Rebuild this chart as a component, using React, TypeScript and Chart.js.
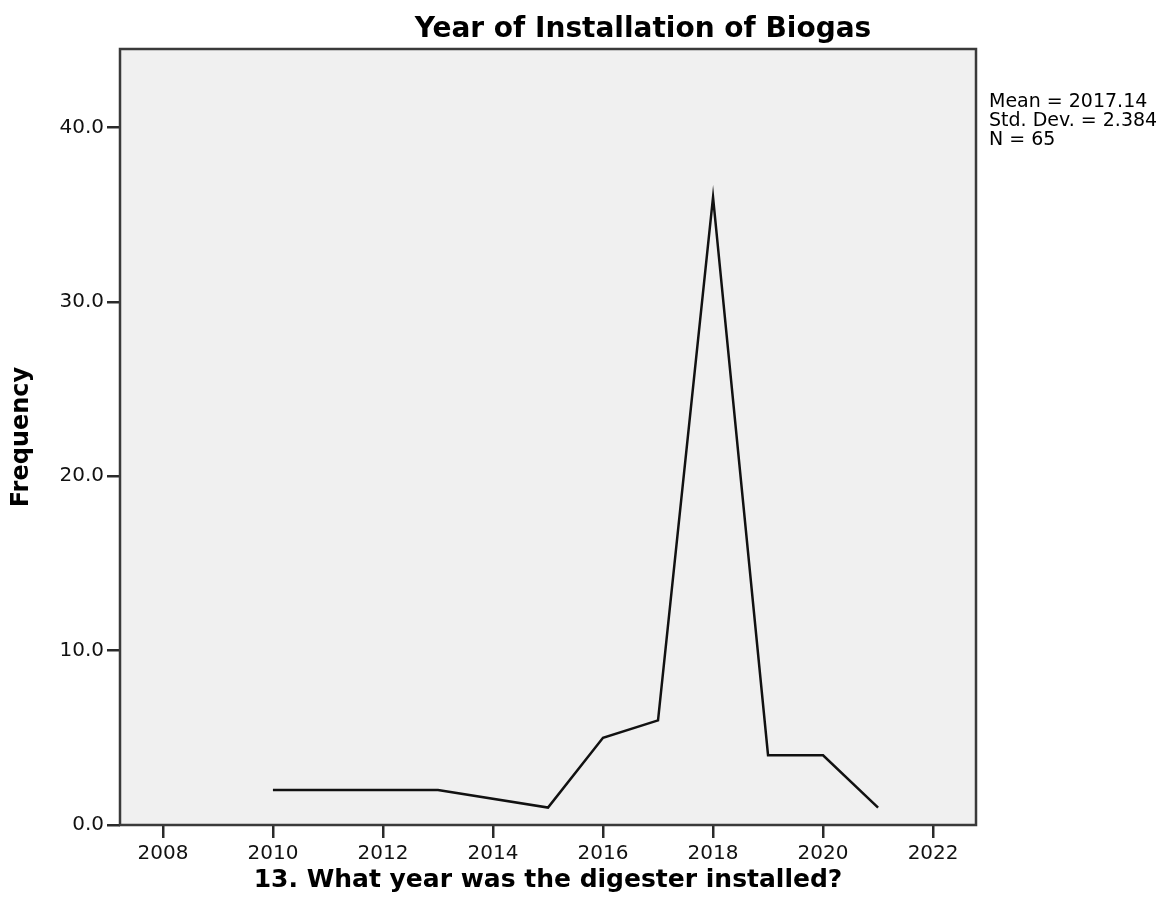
import React, { useEffect, useRef } from "react";
import { Chart, registerables } from "chart.js";

Chart.register(...registerables);

const years = [2010, 2011, 2012, 2013, 2015, 2016, 2017, 2018, 2019, 2020, 2021];
const frequencies = [2, 2, 2, 2, 1, 5, 6, 36, 4, 4, 1];
const xTicks = [2008, 2010, 2012, 2014, 2016, 2018, 2020, 2022];
const yTicks = [0, 10, 20, 30, 40];
const chartTitle = "Year of Installation of Biogas";
const xTitle = "13. What year was the digester installed?";
const yTitle = "Frequency";
const statsLines = ["Mean = 2017.14", "Std. Dev. = 2.384", "N = 65"];

const FONT = "'DejaVu Sans', 'Liberation Sans', Arial, sans-serif";

const decorPlugin = {
  id: "decor",
  beforeDraw(chart: any) {
    const { ctx, chartArea, width, height } = chart;
    ctx.save();
    ctx.fillStyle = "#ffffff";
    ctx.fillRect(0, 0, width, height);
    ctx.fillStyle = "#f0f0f0";
    ctx.fillRect(chartArea.left, chartArea.top, chartArea.right - chartArea.left, chartArea.bottom - chartArea.top);
    ctx.restore();
  },
  afterDraw(chart: any) {
    const { ctx, chartArea } = chart;
    ctx.save();
    ctx.strokeStyle = "#3a3a3a";
    ctx.lineWidth = 2.5;
    ctx.strokeRect(chartArea.left, chartArea.top, chartArea.right - chartArea.left, chartArea.bottom - chartArea.top);

    ctx.fillStyle = "#000000";
    ctx.textAlign = "center";
    ctx.textBaseline = "middle";
    ctx.font = `bold 28px ${FONT}`;
    ctx.fillText(chartTitle, 643, 30);

    ctx.font = `bold 25px ${FONT}`;
    ctx.fillText(xTitle, (chartArea.left + chartArea.right) / 2, 880);

    ctx.save();
    ctx.translate(22, (chartArea.top + chartArea.bottom) / 2);
    ctx.rotate(-Math.PI / 2);
    ctx.font = `bold 24px ${FONT}`;
    ctx.fillText(yTitle, 0, 0);
    ctx.restore();

    ctx.textAlign = "left";
    ctx.textBaseline = "middle";
    ctx.font = `19px ${FONT}`;
    statsLines.forEach((s, i) => ctx.fillText(s, 989, 102 + i * 19));
    ctx.restore();
  },
};

export default function App() {
  const ref = useRef<HTMLCanvasElement | null>(null);

  useEffect(() => {
    document.body.style.margin = "0";
    const canvas = ref.current;
    if (!canvas) return;
    const chart = new Chart(canvas, {
      type: "line",
      data: {
        datasets: [
          {
            data: years.map((y, i) => ({ x: y, y: frequencies[i] })),
            borderColor: "#111111",
            borderWidth: 2.5,
            pointRadius: 0,
            tension: 0,
            fill: false,
          },
        ],
      },
      options: {
        animation: false,
        responsive: false,
        maintainAspectRatio: false,
        layout: { padding: { left: 0, top: 49, right: 197, bottom: 0 } },
        plugins: { legend: { display: false }, tooltip: { enabled: false }, title: { display: false } },
        scales: {
          x: {
            type: "linear",
            min: 2007.22,
            max: 2022.78,
            afterFit: (s: any) => {
              s.height = 87;
            },
            afterBuildTicks: (s: any) => {
              s.ticks = xTicks.map((v) => ({ value: v }));
            },
            border: { display: false },
            grid: { drawOnChartArea: false, drawTicks: true, tickLength: 13, color: "#2a2a2a", lineWidth: 2.5 },
            ticks: {
              padding: 4,
              color: "#111111",
              font: { family: FONT, size: 20 },
              callback: (v: any) => String(v),
              maxRotation: 0,
              autoSkip: false,
            },
          },
          y: {
            type: "linear",
            min: 0,
            max: 44.5,
            afterFit: (s: any) => {
              s.width = 120;
            },
            afterBuildTicks: (s: any) => {
              s.ticks = yTicks.map((v) => ({ value: v }));
            },
            border: { display: false },
            grid: { drawOnChartArea: false, drawTicks: true, tickLength: 13, color: "#2a2a2a", lineWidth: 2.5 },
            ticks: {
              padding: 3,
              color: "#111111",
              font: { family: FONT, size: 20 },
              callback: (v: any) => Number(v).toFixed(1),
              autoSkip: false,
            },
          },
        },
      },
      plugins: [decorPlugin],
    });
    return () => chart.destroy();
  }, []);

  return <canvas ref={ref} width={1173} height={912} style={{ display: "block" }} />;
}
